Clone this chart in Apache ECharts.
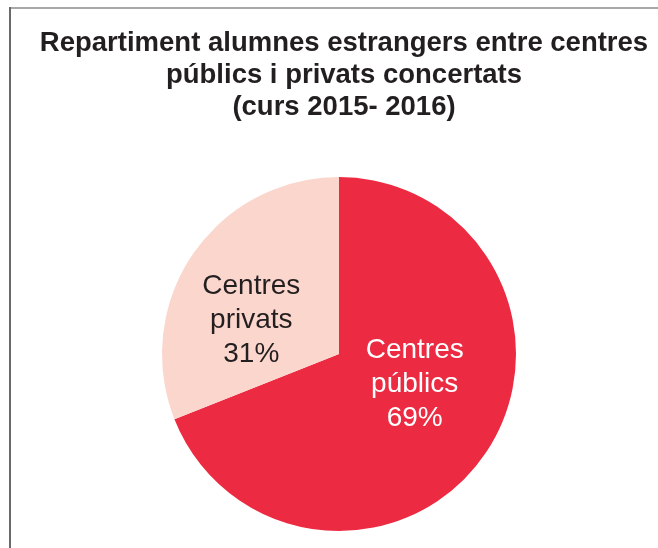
<!DOCTYPE html>
<html>
<head>
<meta charset="utf-8">
<script src="https://cdn.jsdelivr.net/npm/echarts@6/dist/echarts.min.js"></script>
<style>
  html, body { margin: 0; padding: 0; background: #fff; }
  #pieChart { width: 658px; height: 548px; }
</style>
</head>
<body>
<div id="pieChart"></div>
<script>
// dades
var categories = ["Centres\npúblics", "Centres\nprivats"];
var values = [69, 31];
var colors = ["#EC2A41", "#FBD6CC"];
var labelColors = ["#ffffff", "#231f20"];

var chart = echarts.init(document.getElementById("pieChart"));

var option = {
  animation: false,
  title: {
    text: "Repartiment alumnes estrangers entre centres\npúblics i privats concertats\n(curs 2015- 2016)",
    left: 344,
    top: 27,
    padding: 0,
    textAlign: "center",
    textStyle: {
      fontFamily: "Liberation Sans",
      fontSize: 27.5,
      fontWeight: "bold",
      lineHeight: 32,
      color: "#231f20",
    },
  },
  // marc
  graphic: [
    { type: "line", shape: { x1: 9, y1: 8, x2: 658, y2: 8 }, style: { stroke: "#a8a8a8", lineWidth: 2 } },
    { type: "line", shape: { x1: 10, y1: 7, x2: 10, y2: 548 }, style: { stroke: "#6a6a6a", lineWidth: 2 } },
  ],
  series: [
    {
      type: "pie",
      center: [339, 354],
      radius: 177,
      startAngle: 90,
      clockwise: true,
      silent: true,
      labelLine: { show: false },
      label: {
        position: "inside",
        formatter: "{b}\n{d}%",
        fontFamily: "Liberation Sans",
        fontSize: 28,
        lineHeight: 34,
      },
      data: categories.map(function (name, i) {
        return {
          name: name,
          value: values[i],
          itemStyle: { color: colors[i] },
          label: {
            color: labelColors[i],
            offset: i === 0 ? [0, -21] : [-12, 18],
          },
        };
      }),
    },
  ],
};

chart.setOption(option);
</script>
</body>
</html>
